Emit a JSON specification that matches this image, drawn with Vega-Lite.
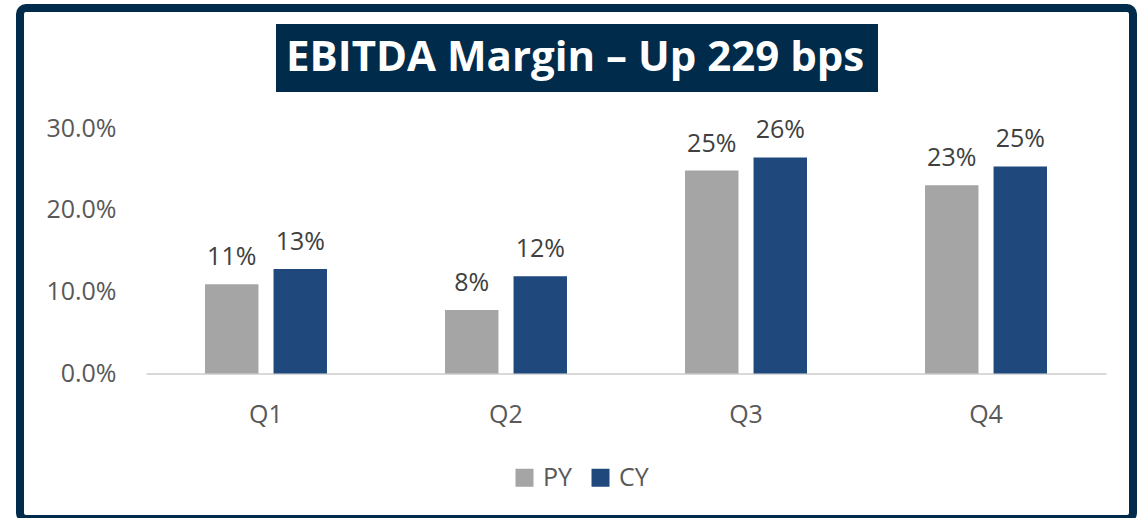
{
  "$schema": "https://vega.github.io/schema/vega-lite/v6.json",
  "width": 1113,
  "height": 511,
  "autosize": {"type": "none"},
  "padding": {"left": 20, "top": 8, "right": 15, "bottom": 0},
  "background": "white",
  "config": {
    "font": "Open Sans",
    "view": {"stroke": "#002B4A", "strokeWidth": 8, "cornerRadius": 6}
  },
  "data": {
    "values": [
      {"Quarter": "Q1", "Series": "PY", "Value": 0.109, "Metric": "EBITDA Margin"},
      {"Quarter": "Q1", "Series": "CY", "Value": 0.1277, "Metric": "EBITDA Margin"},
      {"Quarter": "Q2", "Series": "PY", "Value": 0.0776, "Metric": "EBITDA Margin"},
      {"Quarter": "Q2", "Series": "CY", "Value": 0.119, "Metric": "EBITDA Margin"},
      {"Quarter": "Q3", "Series": "PY", "Value": 0.248, "Metric": "EBITDA Margin"},
      {"Quarter": "Q3", "Series": "CY", "Value": 0.264, "Metric": "EBITDA Margin"},
      {"Quarter": "Q4", "Series": "PY", "Value": 0.23, "Metric": "EBITDA Margin"},
      {"Quarter": "Q4", "Series": "CY", "Value": 0.253, "Metric": "EBITDA Margin"}
    ]
  },
  "encoding": {
    "x": {
      "field": "Quarter",
      "type": "nominal",
      "sort": null,
      "scale": {"range": [126, 1086], "paddingInner": 0.4917, "paddingOuter": 0.2458},
      "axis": {
        "title": null,
        "orient": "bottom",
        "offset": -145.5,
        "domainColor": "#D9D9D9",
        "domainWidth": 2,
        "ticks": false,
        "tickSize": 0,
        "labelAngle": 0,
        "labelFontSize": 25,
        "labelColor": "#595959",
        "labelBaseline": "middle",
        "labelPadding": 41,
        "grid": false
      }
    },
    "xOffset": {
      "field": "Series",
      "sort": ["PY", "CY"],
      "scale": {"paddingInner": 0.22, "paddingOuter": 0}
    },
    "y": {
      "field": "Value",
      "type": "quantitative",
      "scale": {"domain": [-0.1778, 0.4467], "nice": false, "zero": false},
      "axis": {
        "title": null,
        "values": [0, 0.1, 0.2, 0.3],
        "format": ".1%",
        "offset": -96,
        "labelPadding": 0,
        "ticks": false,
        "tickSize": 0,
        "domain": false,
        "grid": false,
        "labelFontSize": 25,
        "labelColor": "#595959"
      }
    }
  },
  "layer": [
    {
      "mark": {"type": "bar"},
      "encoding": {
        "y2": {"datum": 0},
        "color": {
          "field": "Series",
          "type": "nominal",
          "sort": ["PY", "CY"],
          "scale": {"domain": ["PY", "CY"], "range": ["#A5A5A5", "#1F497D"]},
          "legend": {
            "orient": "none",
            "legendX": 492,
            "legendY": 457,
            "direction": "horizontal",
            "title": null,
            "symbolType": "square",
            "symbolSize": 324,
            "symbolStrokeWidth": 0,
            "labelFontSize": 25,
            "labelColor": "#595959",
            "labelOffset": 6,
            "columnPadding": 15,
            "padding": 0
          }
        },
        "opacity": {
          "field": "Metric",
          "type": "nominal",
          "scale": {"range": [1, 1]},
          "legend": {
            "orient": "none",
            "legendX": 256,
            "legendY": 16,
            "title": null,
            "symbolSize": 0,
            "symbolOpacity": 0,
            "symbolStrokeWidth": 0,
            "labelOffset": -45,
            "labelFont": "Open Sans",
            "labelFontWeight": "bold",
            "labelFontSize": 42,
            "labelColor": "white",
            "labelLimit": 2000,
            "labelExpr": "datum.label + ' – Up 229 bps'",
            "fillColor": "#002B4A",
            "padding": 13
          }
        }
      }
    },
    {
      "mark": {"type": "text", "baseline": "alphabetic", "dy": -19, "fontSize": 25, "color": "#404040"},
      "encoding": {
        "text": {"field": "Value", "type": "quantitative", "format": ".0%"}
      }
    }
  ]
}
